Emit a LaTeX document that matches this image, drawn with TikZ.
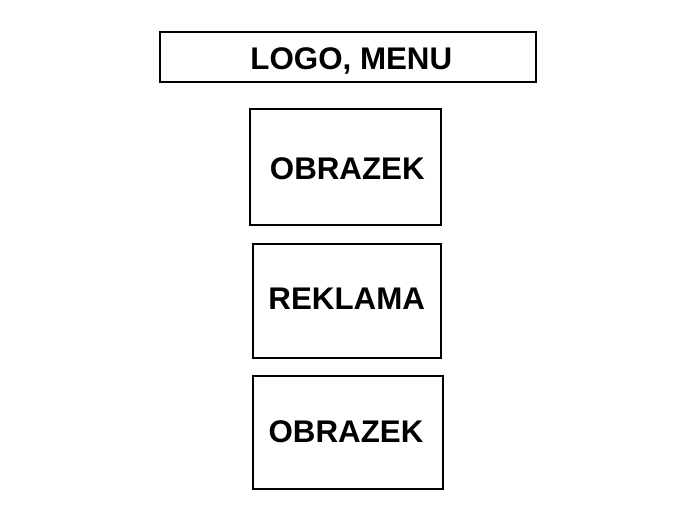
\documentclass[tikz,border=0pt]{standalone}
\usepackage{fontspec}
\setmainfont{Liberation Sans}
\tikzset{
    box/.style = {draw, line width = 2pt, inner sep = 0pt},
    label/.style = {font = \bfseries\fontsize{31.3}{33}\selectfont, inner sep = 0pt, anchor = base}
}
\begin{document}
\begin{tikzpicture}[x = 1pt, y = -1pt]
    \useasboundingbox (0,0) rectangle (684,529);

    % boxes
    \node[box, minimum width = 376pt, minimum height = 50pt] (logo) at (347.5,57) {};
    \node[box, minimum width = 191pt, minimum height = 116pt] (obrazekA) at (345,167) {};
    \node[box, minimum width = 188pt, minimum height = 114pt] (reklama) at (346.5,301) {};
    \node[box, minimum width = 190pt, minimum height = 113pt] (obrazekB) at (347.5,432.5) {};

    % texts
    \node[label] (logotext) at (351.3,69.5) {LOGO, MENU};
    \node[label] (obrazekAtext) at (347.3,179.5) {OBRAZEK};
    \node[label] (reklamatext) at (346.7,309) {REKLAMA};
    \node[label] (obrazekBtext) at (346,442.7) {OBRAZEK};
\end{tikzpicture}
\end{document}
